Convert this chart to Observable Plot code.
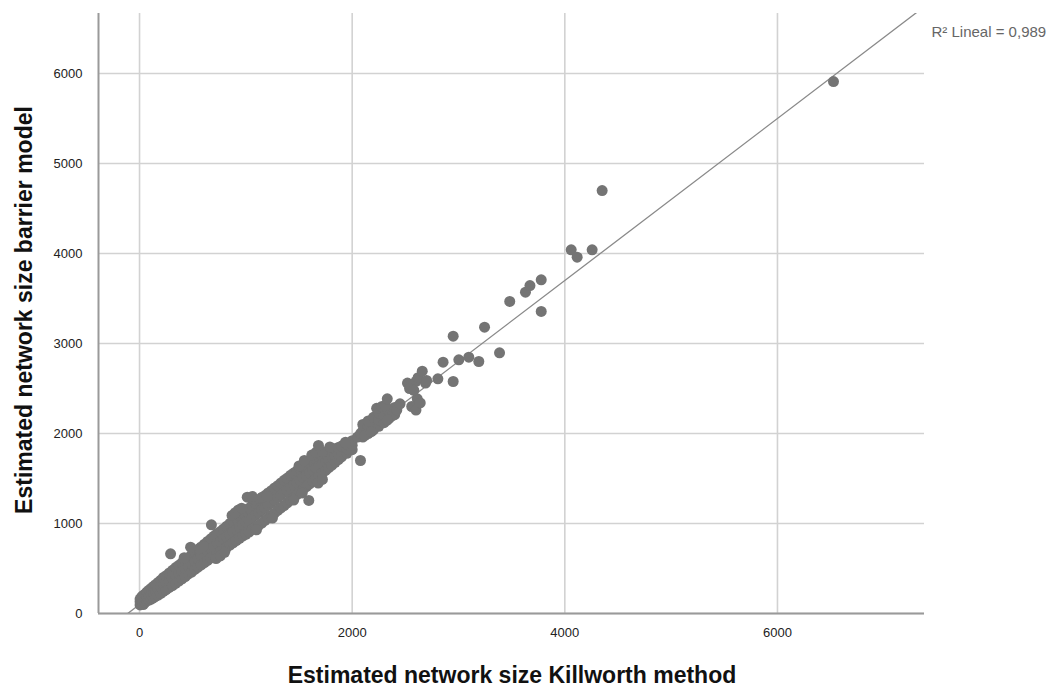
<!DOCTYPE html>
<html>
<head>
<meta charset="utf-8">
<script src="https://cdn.jsdelivr.net/npm/d3@7"></script>
<script src="https://cdn.jsdelivr.net/npm/@observablehq/plot@0.6"></script>
<style>
  html, body { margin: 0; padding: 0; background: #fff; }
  #chart { width: 1056px; height: 688px; }
</style>
</head>
<body>
<div id="chart"></div>
<script>
// ---- Data ----
const xTitle = "Estimated network size Killworth method";
const yTitle = "Estimated network size barrier model";
const r2Label = "R² Lineal = 0,989";

const xTicks = [0, 2000, 4000, 6000];
const yTicks = [0, 1000, 2000, 3000, 4000, 5000, 6000];
const xDomain = [-386, 7383];
const yDomain = [0, 6667];

// fitted line
const regSlope = 0.9;
const regIntercept = 100;

// dense band of respondents: [Killworth, barrier]
const band = [
  [5,95],[5,130],[5,160],[20,110],[20,150],[20,185],[35,100],[35,140],[35,200],
  [50,125],[50,170],[50,215],[70,140],[70,185],[70,240],[90,150],[90,200],[90,260],
  [110,160],[110,215],[110,280],[130,175],[130,235],[130,300],[150,190],[150,250],[150,320],
  [175,205],[175,270],[175,345],[200,225],[200,295],[200,370],[225,245],[225,320],[225,400],
  [250,265],[250,340],[250,420],[280,290],[280,365],[280,450],[310,310],[310,390],[310,480],
  [340,335],[340,420],[340,510],[370,360],[370,445],[370,535],[400,385],[400,470],[400,565],
  [430,410],[430,500],[430,590],[460,440],[460,525],[460,620],[490,460],[490,550],[490,650],
  [520,490],[520,580],[520,680],[550,515],[550,610],[550,705],[580,540],[580,640],[580,740],
  [610,565],[610,665],[610,770],[640,590],[640,695],[640,800],[670,620],[670,720],[670,830],
  [700,645],[700,750],[700,860],[730,670],[730,780],[730,890],[760,690],[760,800],[760,910],
  [790,710],[790,830],[790,940],[820,735],[820,855],[820,970],[850,760],[850,880],[850,1000],
  [880,785],[880,910],[880,1030],[910,810],[910,935],[910,1060],[940,835],[940,960],[940,1085],
  [970,860],[970,990],[970,1115],[1000,880],[1000,1015],[1000,1140],[1030,905],[1030,1040],[1030,1170],
  [1060,930],[1060,1065],[1060,1200],[1090,955],[1090,1095],[1090,1230],[1120,980],[1120,1120],[1120,1255],
  [1150,1005],[1150,1150],[1150,1285],[1180,1035],[1180,1175],[1180,1310],[1210,1060],[1210,1205],[1210,1340],
  [1240,1090],[1240,1230],[1240,1365],[1270,1115],[1270,1260],[1270,1395],[1300,1145],[1300,1290],[1300,1420],
  [1330,1175],[1330,1315],[1330,1450],[1360,1200],[1360,1345],[1360,1480],[1390,1230],[1390,1370],[1390,1505],
  [1420,1260],[1420,1400],[1420,1535],[1450,1290],[1450,1425],[1450,1560],[1480,1320],[1480,1455],[1480,1585],
  [1510,1350],[1510,1480],[1510,1610],[1540,1380],[1540,1510],[1540,1630],[1570,1410],[1570,1535],[1570,1655],
  [1600,1440],[1600,1565],[1600,1680],[1630,1470],[1630,1590],[1630,1700],[1660,1500],[1660,1615],[1660,1720],
  [1690,1530],[1690,1640],[1690,1740],[1720,1560],[1720,1665],[1720,1760],[1750,1590],[1750,1690],[1750,1780],
  [1780,1620],[1780,1710],[1780,1800],[1810,1650],[1810,1735],[1810,1815],[1840,1680],[1840,1755],[1840,1830],
  [1870,1710],[1870,1775],[1870,1845],[1900,1740],[1900,1795],[1900,1860],[1950,1780],[1950,1830],[1950,1880],
  [2000,1820],[2000,1870],[2000,1920],[2100,1960],[2100,2030],[2100,2100],[2150,2000],[2150,2070],[2150,2140],
  [2200,2040],[2200,2110],[2200,2180],[2250,2080],[2250,2150],[2250,2230],[2300,2120],[2300,2200],[2300,2280],
  [2350,2170],[2350,2250],[2400,2210],[2400,2290]
];

// irregular edges of the band: [Killworth, barrier]
const bandEdges = [
  [420,620],[560,720],[600,745],[870,1090],[900,1120],[930,1150],[960,1170],[1080,1270],
  [1150,1290],[1200,1300],[1500,1640],[1550,1700],[1620,1760],[1660,1790],[1720,1800],[1790,1850],
  [720,610],[760,640],[800,680],[1680,1450],[1720,1490],[1100,930],[1250,1060],[1450,1260],[1530,1340],
  [2050,1960],[2080,2000],[2120,1980],[2180,2020],[2230,2280],[2280,2300],[2380,2200],[2420,2260],
  [2450,2330],[2330,2150]
];

// scattered respondents away from the band: [Killworth, barrier]
const scattered = [
  [292,663],[480,737],[676,985],[1013,1292],[1060,1300],[1592,1256],[1683,1867],[1937,1903],
  [2078,1700],[2313,2311],[2330,2385],[2612,2385],[2560,2300],[2600,2260],[2640,2340],
  [2520,2560],[2560,2540],[2600,2580],[2690,2560],[2540,2500],[2620,2620],[2700,2590],[2580,2480],
  [2659,2692],[2806,2608],[2950,2578],[2855,2792],[3003,2819],[3097,2848],[3191,2800],[3386,2897],
  [2950,3081],[3245,3181],[3778,3356],[3482,3467],[3630,3570],[3672,3644],[3778,3708],
  [4060,4041],[4116,3959],[4257,4041],[4351,4700],[6527,5911]
];

// ---- Build tables ----
const points = band.concat(bandEdges, scattered).map(([k, b]) => ({killworth: k, barrier: b}));
const regLine = xDomain.map(x => ({x, y: regIntercept + regSlope * x}));
const fontFamily = "'Liberation Sans', Arial, sans-serif";

const chart = Plot.plot({
  width: 1056,
  height: 688,
  marginLeft: 98,
  marginRight: 132,
  marginTop: 13,
  marginBottom: 75,
  style: {fontFamily, fontSize: "13px", color: "#222", background: "#fff"},
  x: {domain: xDomain},
  y: {domain: yDomain},
  marks: [
    Plot.gridX(xTicks, {stroke: "#d2d2d2", strokeOpacity: 1, strokeWidth: 1.6}),
    Plot.gridY(yTicks, {stroke: "#d2d2d2", strokeOpacity: 1, strokeWidth: 1.6}),
    Plot.ruleX([xDomain[0]], {stroke: "#9a9a9a", strokeWidth: 2}),
    Plot.ruleY([yDomain[0]], {stroke: "#9a9a9a", strokeWidth: 2}),
    Plot.line(regLine, {x: "x", y: "y", stroke: "#8a8a8a", strokeWidth: 1.3, clip: true}),
    Plot.dot(points, {x: "killworth", y: "barrier", r: 5.5, fill: "#747474", stroke: "none"}),
    Plot.axisX(xTicks, {tickSize: 0, tickPadding: 14, label: null, fill: "#222", tickFormat: d3.format("d")}),
    Plot.axisY(yTicks, {tickSize: 0, tickPadding: 16, label: null, fill: "#222", tickFormat: d3.format("d")}),
    Plot.text([r2Label], {frameAnchor: "top-right", dx: 7, dy: 13, textAnchor: "start", fill: "#666", fontSize: 15})
  ]
});

document.getElementById("chart").appendChild(chart);

// axis titles
const svg = d3.select(chart);
svg.append("text")
  .attr("x", 512).attr("y", 675).attr("dy", "0.35em")
  .attr("text-anchor", "middle")
  .style("font-family", fontFamily)
  .style("font-size", "23px").style("font-weight", "bold").attr("fill", "#111")
  .text(xTitle);
svg.append("text")
  .attr("transform", "translate(24,310) rotate(-90)").attr("dy", "0.35em")
  .attr("text-anchor", "middle")
  .style("font-family", fontFamily)
  .style("font-size", "23px").style("font-weight", "bold").attr("fill", "#111")
  .text(yTitle);
</script>
</body>
</html>
